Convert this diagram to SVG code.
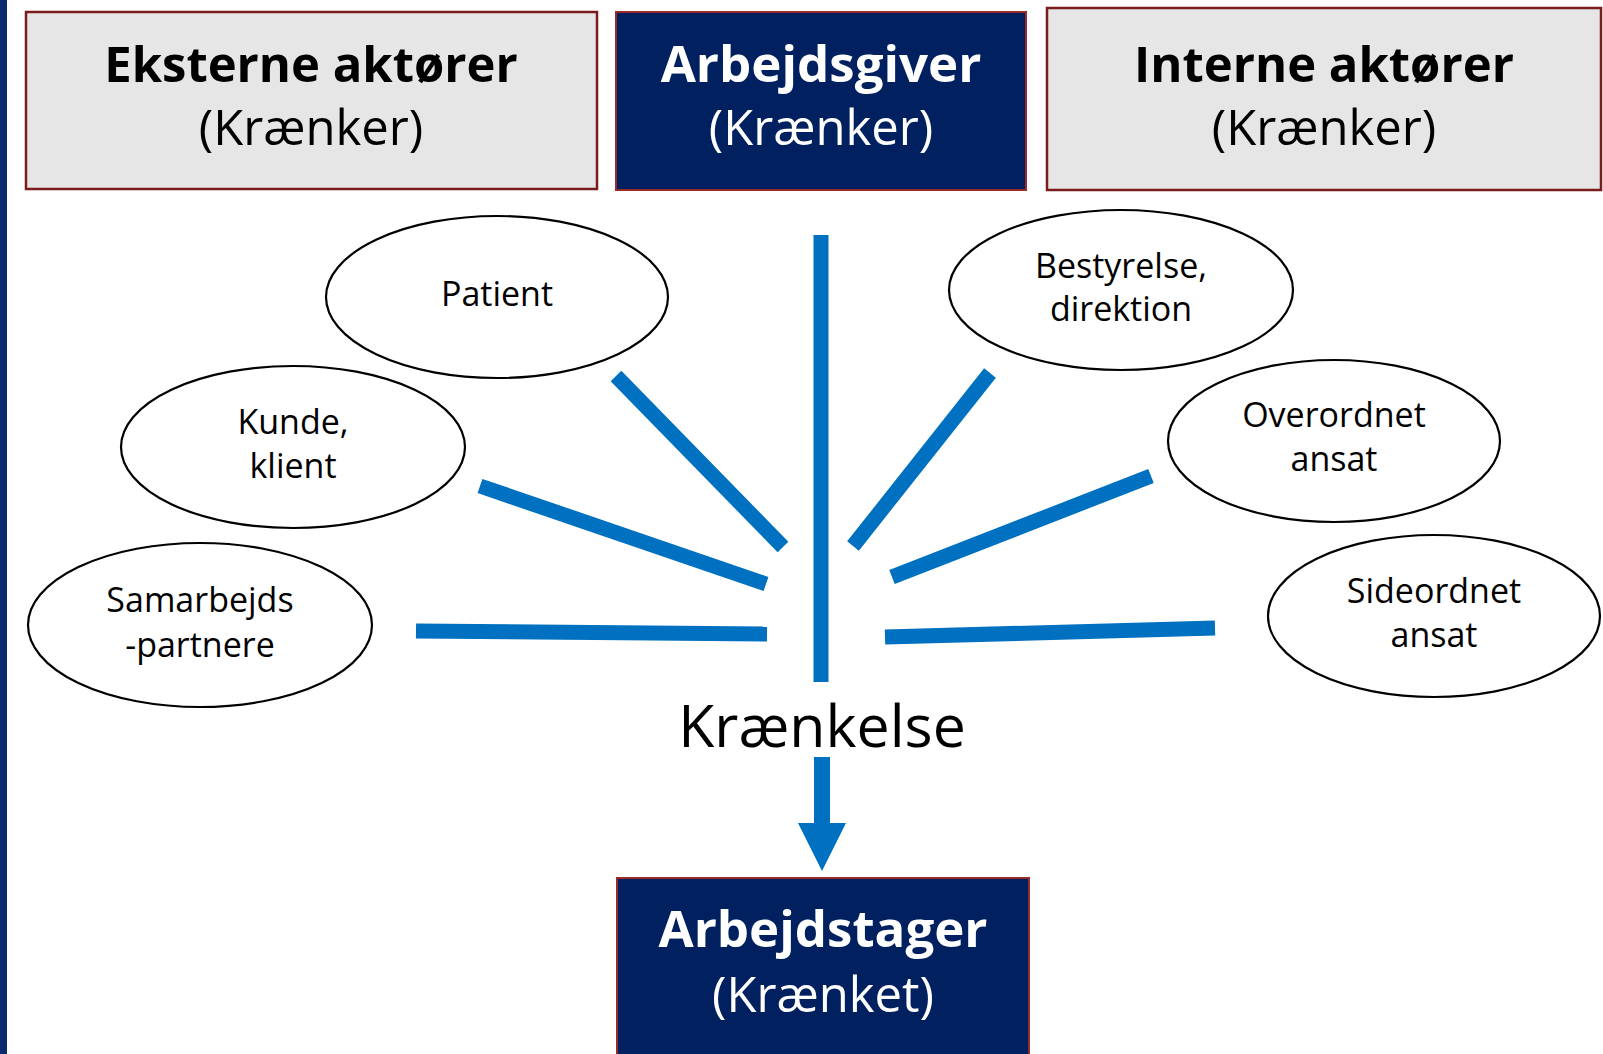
<svg xmlns="http://www.w3.org/2000/svg" width="1603" height="1054" viewBox="0 0 1603 1054">
<style>
.gbox{fill:#e7e6e6;stroke:#7b1c1c;stroke-width:2.5}
.nbox{fill:#002060;stroke:#9b2a2a;stroke-width:2}
.ell{fill:#ffffff;stroke:#000000;stroke-width:2.2}
.t{font-family:"Open Sans","Noto Sans","Liberation Sans",sans-serif;text-anchor:middle}
.b{font-weight:bold;font-size:51px}
.b2{font-weight:bold;font-size:49px}
.r{font-size:49px}
.e{font-size:34px;fill:#000}
.blk{fill:#000}
.wht{fill:#fff}
.conn{stroke:#0070c0;stroke-width:15;fill:none}
</style>
<rect x="0" y="0" width="1603" height="1054" fill="#ffffff"/>
<rect x="0" y="0" width="7" height="1054" fill="#0b2b6e"/>

<g id="eksterne">
<rect class="gbox" x="26" y="12" width="571" height="177"/>
<text class="t b2 blk" x="311" y="82">Eksterne aktører</text>
<text class="t r blk" x="311" y="145">(Krænker)</text>
</g>
<g id="arbejdsgiver">
<rect class="nbox" x="616" y="12" width="410" height="178"/>
<text class="t b wht" x="821" y="82">Arbejdsgiver</text>
<text class="t r wht" x="821" y="145">(Krænker)</text>
</g>
<g id="interne">
<rect class="gbox" x="1047" y="8" width="554" height="182"/>
<text class="t b2 blk" x="1324" y="82">Interne aktører</text>
<text class="t r blk" x="1324" y="145">(Krænker)</text>
</g>

<g id="patient">
<ellipse class="ell" cx="497" cy="297" rx="171" ry="81"/>
<text class="t e" x="497" y="306">Patient</text>
</g>
<g id="kunde">
<ellipse class="ell" cx="293" cy="447" rx="172" ry="81"/>
<text class="t e" x="293" y="434">Kunde,</text>
<text class="t e" x="293" y="478">klient</text>
</g>
<g id="samarbejds">
<ellipse class="ell" cx="200" cy="625" rx="172" ry="82"/>
<text class="t e" x="200" y="612">Samarbejds</text>
<text class="t e" x="200" y="657">-partnere</text>
</g>
<g id="bestyrelse">
<ellipse class="ell" cx="1121" cy="290" rx="172" ry="80"/>
<text class="t e" x="1121" y="278">Bestyrelse,</text>
<text class="t e" x="1121" y="321">direktion</text>
</g>
<g id="overordnet">
<ellipse class="ell" cx="1334" cy="441" rx="166" ry="81"/>
<text class="t e" x="1334" y="427">Overordnet</text>
<text class="t e" x="1334" y="471">ansat</text>
</g>
<g id="sideordnet">
<ellipse class="ell" cx="1434" cy="616" rx="166" ry="81"/>
<text class="t e" x="1434" y="603">Sideordnet</text>
<text class="t e" x="1434" y="647">ansat</text>
</g>

<g id="connectors">
<line class="conn" x1="821" y1="235" x2="821" y2="682"/>
<line class="conn" x1="616" y1="376" x2="783" y2="547"/>
<line class="conn" x1="480" y1="486" x2="766" y2="584"/>
<line class="conn" x1="416" y1="631" x2="767" y2="634"/>
<line class="conn" x1="990" y1="373" x2="853" y2="546"/>
<line class="conn" x1="1151" y1="476" x2="892" y2="577"/>
<line class="conn" x1="1215" y1="628" x2="885" y2="637"/>
<rect x="814" y="757" width="16" height="67" fill="#0070c0"/>
<polygon points="798,823 846,823 822,871" fill="#0070c0"/>
</g>

<g id="kraenkelse">
<text class="t blk" x="822" y="747" font-size="59">Krænkelse</text>
</g>

<g id="arbejdstager">
<rect class="nbox" x="617" y="878" width="412" height="180"/>
<text class="t b wht" x="823" y="947">Arbejdstager</text>
<text class="t r wht" x="823" y="1012">(Krænket)</text>
</g>
</svg>
